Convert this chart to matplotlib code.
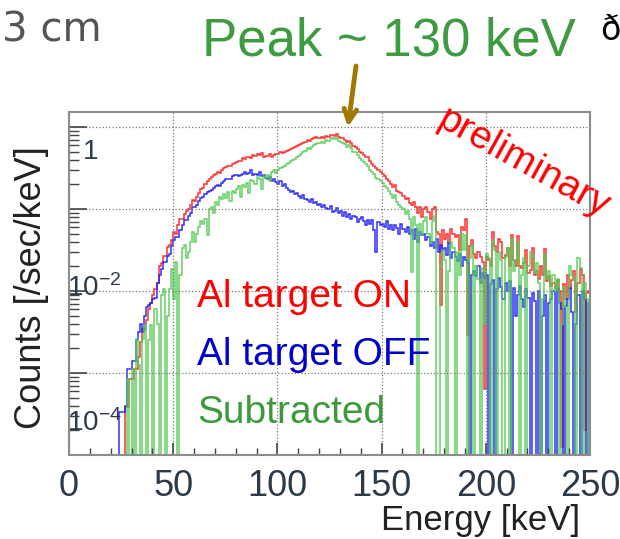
import matplotlib

matplotlib.use("Agg")

import matplotlib.pyplot as plt
import numpy as np
from matplotlib.ticker import FixedLocator, LogLocator, MultipleLocator, NullFormatter

plt.rcParams["font.family"] = ["Liberation Sans", "DejaVu Sans"]
plt.rcParams["mathtext.fontset"] = "custom"
plt.rcParams["mathtext.rm"] = "Liberation Sans"
plt.rcParams["mathtext.it"] = "Liberation Sans"

# 1 keV bins, first bin starts at 20 keV
BIN_START = 20
# log10 of counts [/sec/keV], Z = empty bin
Z = None
LOG_ON = [
    Z, Z, Z, Z, Z, Z, Z, -3.41, -3.41, -3.07,
    -3.07, -2.95, -2.95, -2.80, -2.62, -2.46, -2.46, -2.35, -2.22, -2.15,
    -2.05, -1.97, -1.90, -1.69, -1.66, -1.57, -1.57, -1.46, -1.44, -1.38,
    -1.28, -1.30, -1.20, -1.12, -1.12, -1.06, -1.02, -1.00, -0.95, -0.89,
    -0.90, -0.85, -0.80, -0.75, -0.74, -0.69, -0.66, -0.63, -0.61, -0.59,
    -0.57, -0.55, -0.56, -0.52, -0.50, -0.49, -0.47, -0.48, -0.45, -0.44,
    -0.43, -0.41, -0.42, -0.38, -0.39, -0.37, -0.36, -0.38, -0.34, -0.35,
    -0.33, -0.34, -0.32, -0.36, -0.35, -0.35, -0.33, -0.36, -0.34, -0.33,
    -0.33, -0.31, -0.32, -0.30, -0.29, -0.28, -0.27, -0.25, -0.24, -0.23,
    -0.22, -0.21, -0.19, -0.18, -0.16, -0.17, -0.15, -0.14, -0.12, -0.13,
    -0.13, -0.12, -0.14, -0.11, -0.12, -0.10, -0.10, -0.11, -0.09, -0.12,
    -0.14, -0.13, -0.16, -0.18, -0.17, -0.20, -0.23, -0.24, -0.27, -0.30,
    -0.32, -0.34, -0.37, -0.37, -0.42, -0.45, -0.47, -0.50, -0.53, -0.55,
    -0.57, -0.60, -0.63, -0.66, -0.70, -0.73, -0.71, -0.78, -0.79, -0.80,
    -0.84, -0.88, -0.87, -0.93, -0.95, -0.92, -0.98, -1.05, -0.98, -1.10,
    -1.00, -0.97, -1.04, -1.12, -1.00, -0.98, -1.28, -1.30, -2.17, -1.26,
    -1.36, -1.30, -1.42, -1.24, -1.30, -1.34, -1.32, -1.50, -1.22, -1.25,
    -1.12, -2.54, -1.45, -1.38, -1.55, -1.60, -1.52, -1.58, -1.65, -3.20,
    -1.58, -1.62, -1.70, -1.28, -1.45, -1.52, -1.36, -1.40, -1.60, -1.56,
    -1.48, -1.70, -1.32, -1.62, -1.69, -1.33, -1.70, -1.72, -1.66, -1.50,
    -1.78, -1.74, -1.48, -1.80, -1.76, -1.85, -1.70, -1.80, -1.49, -1.88,
    -1.82, -1.94, -1.90, -1.96, -1.86, -2.00, -3.90, -1.92, -2.10, -1.80,
    -1.98, -1.86, -1.76, -2.25, -1.90, -1.73, -1.80, -3.70, -2.03, -2.00,
]
LOG_OFF = [
    Z, Z, Z, Z, -3.48, -3.48, -3.48, -3.40, -2.95, -2.95,
    -2.85, -2.85, -2.60, -2.50, -2.40, -2.50, -2.30, -2.20, -2.17, -2.15,
    -2.10, -2.09, -1.90, -1.80, -1.73, -1.65, -1.65, -1.57, -1.55, -1.45,
    -1.38, -1.34, -1.34, -1.25, -1.20, -1.14, -1.14, -1.08, -1.05, -0.98,
    -0.98, -0.95, -0.90, -0.87, -0.85, -0.82, -0.79, -0.78, -0.77, -0.74,
    -0.72, -0.71, -0.72, -0.68, -0.66, -0.64, -0.63, -0.64, -0.60, -0.59,
    -0.59, -0.60, -0.58, -0.57, -0.55, -0.57, -0.56, -0.53, -0.58, -0.57,
    -0.59, -0.55, -0.60, -0.58, -0.62, -0.63, -0.61, -0.66, -0.64, -0.67,
    -0.69, -0.66, -0.72, -0.70, -0.74, -0.77, -0.79, -0.78, -0.82, -0.81,
    -0.84, -0.86, -0.83, -0.88, -0.89, -0.92, -0.88, -0.93, -0.91, -0.95,
    -0.94, -0.97, -0.95, -0.99, -1.00, -0.96, -1.04, -1.02, -0.99, -1.05,
    -1.02, -1.08, -1.04, -1.10, -1.06, -1.12, -1.08, -1.10, -1.16, -1.12,
    -1.10, -1.15, -1.20, -1.13, -1.18, -1.14, -1.25, -1.52, -1.16, -1.20,
    -1.18, -1.22, -1.15, -1.24, -1.20, -1.26, -1.19, -1.23, -1.30, -1.18,
    -1.24, -1.28, -1.22, -1.30, -1.25, -1.36, -1.24, -1.40, -1.28, -1.32,
    -1.30, -1.38, -1.34, -1.45, -1.40, -1.48, -1.36, -1.52, -1.44, -1.50,
    -1.48, -1.56, -1.42, -1.60, -1.52, -1.58, -1.64, -1.55, -1.70, -1.58,
    -1.62, -1.66, Z, -1.80, -1.75, -1.82, -1.70, -1.90, -1.78, -1.84,
    -1.80, Z, -1.92, -1.86, Z, -1.98, -1.84, -1.95, -2.10, -1.90,
    -2.00, -1.88, Z, -1.96, -2.30, -2.05, -1.94, -2.10, -2.20, -1.98,
    -2.08, Z, -2.02, -2.12, Z, -2.00, Z, -2.30, -2.05, Z,
    -2.15, -2.10, -2.00, Z, -1.98, -2.15, -2.22, Z, -2.18, -2.10,
    -1.96, -2.25, Z, -2.40, -2.05, Z, -2.00, -2.10, Z, -2.15,
]
LOG_SUB = [
    Z, Z, Z, Z, Z, Z, Z, Z, -3.07, Z,
    -2.95, Z, -2.58, -2.90, Z, -2.58, -2.42, Z, -2.60, -2.42,
    Z, -2.22, -2.40, Z, -2.05, -1.97, Z, -2.30, -1.97, -1.73,
    -2.10, -1.65, Z, -1.80, -1.48, -1.44, -1.60, -1.52, -1.40, -1.28,
    -1.40, -1.30, -1.22, -1.15, -1.18, -1.12, -1.32, -1.00, -0.98, -1.05,
    -0.92, -0.95, -0.85, -0.88, -0.82, -0.86, -0.79, -0.90, -0.78, -0.81,
    -0.76, -0.72, -0.85, -0.71, -0.73, -0.68, -0.80, -0.65, -0.66, -0.70,
    -0.61, -0.64, -0.75, -0.60, -0.62, -0.58, -0.66, -0.55, -0.53, -0.56,
    -0.52, -0.50, -0.49, -0.47, -0.45, -0.44, -0.42, -0.40, -0.39, -0.37,
    -0.35, -0.33, -0.30, -0.29, -0.26, -0.27, -0.24, -0.22, -0.21, -0.20,
    -0.19, -0.18, -0.20, -0.16, -0.17, -0.15, -0.14, -0.15, -0.14, -0.17,
    -0.18, -0.19, -0.21, -0.24, -0.22, -0.26, -0.30, -0.31, -0.34, -0.38,
    -0.40, -0.43, -0.45, -0.47, -0.52, -0.55, -0.57, -0.62, -0.63, -0.66,
    -0.68, -0.72, -0.74, -0.78, -0.82, -0.86, -0.83, -0.92, -0.95, -0.98,
    -1.00, -1.06, -1.02, -1.12, -1.77, -1.10, -1.20, Z, -1.18, -1.30,
    -1.15, -1.10, -1.30, -1.42, -1.15, -1.08, Z, Z, -1.70, -1.50,
    -1.62, Z, -1.75, -1.40, -1.48, Z, -1.52, -1.80, -1.30, -1.50,
    -1.32, Z, -1.60, -1.45, Z, -1.70, -1.85, Z, -1.72, -2.40,
    -1.55, -1.60, Z, -1.38, -1.50, Z, -1.52, -1.62, Z, -1.58,
    -1.48, Z, -1.36, -1.75, -1.62, -1.40, Z, -1.80, -1.60, Z,
    -1.70, -1.52, -1.58, -1.78, -1.66, -1.90, Z, -2.10, -1.55, -1.85,
    -1.75, Z, -1.80, -2.00, -1.85, Z, -2.40, -1.95, -2.20, Z,
    -1.70, -1.80, -1.85, Z, -1.60, -1.72, Z, -1.90, -2.10, Z,
]

X_TICKS = [0, 50, 100, 150, 200, 250]
Y_LABELS = ["1", r"$10^{-2}$", r"$10^{-4}$"]

W, H = 620, 539
LABEL_COLOR = "#2d3a4a"


def counts(logs):
    return np.array([0.0 if v is None else 10.0 ** v for v in logs])


def px(x, y):
    return x / W, 1 - y / H


fig = plt.figure(figsize=(W / 100, H / 100), dpi=100)
ax = fig.add_axes([69 / W, 1 - 455 / H, 521 / W, 343 / H])

edges = np.arange(BIN_START, BIN_START + len(LOG_ON) + 1)
series = [
    (LOG_ON, "#ff1a1a"),
    (LOG_OFF, "#1a1aff"),
    (LOG_SUB, "#55cc55"),
]
for logs, color in series:
    vals = counts(logs)
    vals = np.where(vals > 0, vals, 1e-9)
    ax.stairs(vals, edges, baseline=None, color=color, lw=1.1, alpha=0.9)

ax.set_xlim(0, 250)
ax.set_yscale("log")
ax.set_ylim(1e-4, 10 ** (15 / 82))

ax.xaxis.set_major_locator(FixedLocator(X_TICKS))
ax.xaxis.set_minor_locator(MultipleLocator(10))
ax.yaxis.set_major_locator(LogLocator(base=10, numticks=10))
ax.yaxis.set_minor_locator(LogLocator(base=10, subs=np.arange(2, 10), numticks=10))
ax.yaxis.set_major_formatter(NullFormatter())
ax.yaxis.set_minor_formatter(NullFormatter())

ax.tick_params(axis="x", which="major", direction="in", length=9, width=1.2,
               color="#444444", labelsize=26, labelcolor=LABEL_COLOR, pad=10)
ax.tick_params(axis="x", which="minor", direction="in", length=5, width=1.0, color="#444444")
ax.tick_params(axis="y", which="major", direction="in", length=13, width=1.2, color="#444444")
ax.tick_params(axis="y", which="minor", direction="in", length=7, width=1.0, color="#444444")

ax.grid(True, which="major", ls=":", color="#777777", lw=0.9)
for side, spine in ax.spines.items():
    spine.set_color("#8c8c8c")
    spine.set_linewidth(1.5)

# y tick labels as drawn on the slide
label_pos = [(83, 152), (67, 288), (67, 423)]
for text, (x, y) in zip(Y_LABELS, label_pos):
    fig.text(*px(x, y), text, ha="left", va="center", fontsize=20, color=LABEL_COLOR)

fig.text(*px(32, 288), "Counts [/sec/keV]", rotation=90, ha="center", va="center",
         fontsize=26, color="#222222")
fig.text(*px(580, 530), "Energy [keV]", ha="right", va="baseline", fontsize=25, color="#222222")

# legend entries
legend = [("Al target ON", "#ff0000", 307), ("Al target OFF", "#0000cc", 365),
          ("Subtracted", "#3c9a3c", 423)]
for text, color, y in legend:
    fig.text(*px(197, y), text, ha="left", va="baseline", fontsize=28, color=color)

fig.text(*px(523, 163), "preliminary", rotation=-29, rotation_mode="anchor",
         ha="center", va="center", fontsize=28, color="#ff0000")

fig.text(*px(389, 56), "Peak ~ 130 keV", ha="center", va="baseline", fontsize=38, color="#3f9b3f")
fig.text(*px(2, 41), "3 cm", ha="left", va="baseline", fontsize=29, color="#555555",
         family="DejaVu Sans")
fig.text(*px(600, 40), "ð", ha="left", va="baseline", fontsize=24, color="black",
         family="DejaVu Sans")

ax.annotate("", xy=px(348, 127), xytext=px(356, 66), xycoords="figure fraction",
            textcoords="figure fraction", annotation_clip=False,
            arrowprops=dict(arrowstyle="->,head_length=0.9,head_width=0.45",
                            color="#a07a00", lw=3.5, shrinkA=0, shrinkB=0))

fig.savefig("out.png", dpi=100)
